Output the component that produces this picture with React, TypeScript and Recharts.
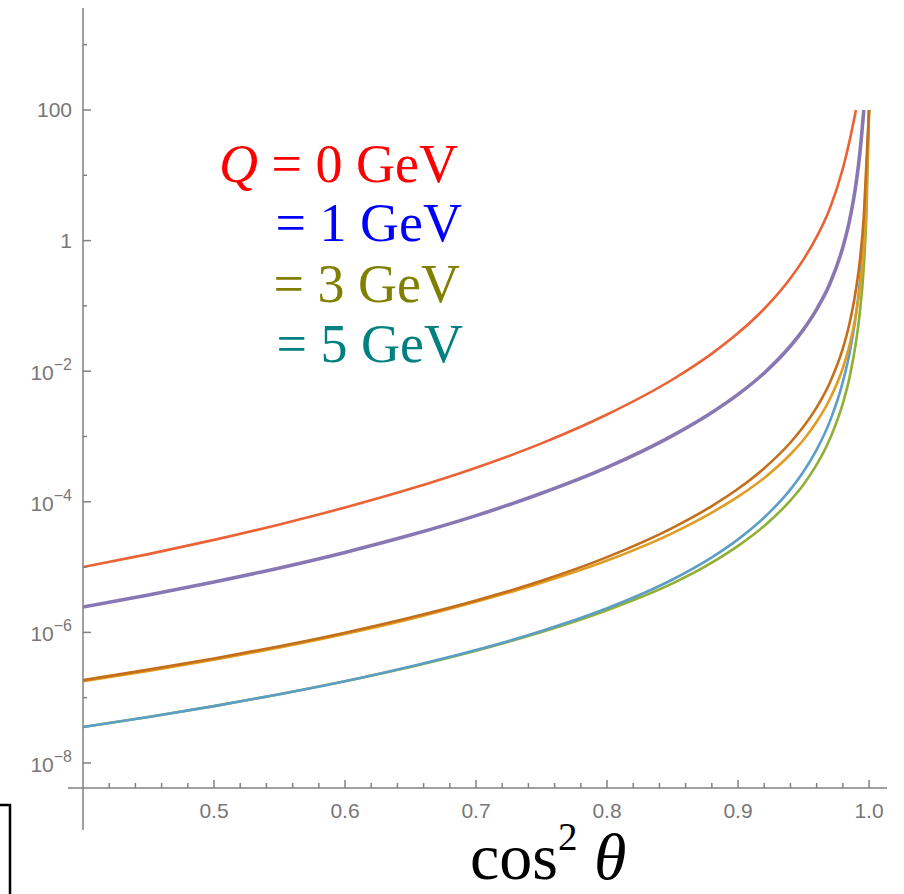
import { LineChart, Line, XAxis, YAxis } from 'recharts'

// cos^2(theta) sample points shared by all curves
const COS2 = [0.4, 0.45, 0.5, 0.55, 0.6, 0.65, 0.7, 0.75, 0.8, 0.85, 0.88, 0.9, 0.92, 0.94, 0.95, 0.96, 0.97, 0.98, 0.985, 0.99, 0.993, 0.996, 0.998, 1.0]

// Q = 0 GeV
const RATE_Q0 = [1.0e-5, 1.58e-5, 2.61e-5, 4.5e-5, 8.17e-5, 1.58e-4, 3.33e-4, 7.85e-4, 2.17e-3, 7.46e-3, 0.0186, 0.0383, 0.0904, 0.265, 0.516, 1.14, 3.08, 12.7, 32.8, 100, null, null, null, null]
// Q = 1 GeV
const RATE_Q1 = [2.45e-6, 3.74e-6, 5.92e-6, 9.72e-6, 1.68e-5, 3.09e-5, 6.14e-5, 1.35e-4, 3.36e-4, 1.03e-3, 2.33e-3, 4.41e-3, 9.4e-3, 0.0243, 0.0437, 0.0885, 0.216, 0.791, 1.99, 7.28, 22.0, 100, null, null]
// Q = 3 GeV (two variants)
const RATE_Q3A = [1.86e-7, 2.69e-7, 3.99e-7, 6.15e-7, 9.91e-7, 1.69e-6, 3.08e-6, 6.18e-6, 1.42e-5, 3.99e-5, 8.61e-5, 1.58e-4, 3.27e-4, 8.09e-4, 1.42e-3, 2.79e-3, 6.61e-3, 0.0223, 0.0528, 0.178, 0.501, 2.4, 15.6, 100]
const RATE_Q3B = [1.78e-7, 2.56e-7, 3.81e-7, 5.87e-7, 9.46e-7, 1.61e-6, 2.94e-6, 5.77e-6, 1.26e-5, 3.32e-5, 6.84e-5, 1.2e-4, 2.32e-4, 5.35e-4, 8.93e-4, 1.68e-3, 3.72e-3, 0.0112, 0.0247, 0.0743, 0.191, 0.794, 4.4, 100]
// Q = 5 GeV (two variants)
const RATE_Q5A = [3.55e-8, 5.06e-8, 7.43e-8, 1.13e-7, 1.79e-7, 3.0e-7, 5.36e-7, 1.05e-6, 2.34e-6, 6.46e-6, 1.41e-5, 2.66e-5, 5.75e-5, 1.55e-4, 2.91e-4, 6.28e-4, 1.69e-3, 6.87e-3, 0.0184, 0.0729, 0.237, 1.34, 10.0, 100]
const RATE_Q5B = [3.55e-8, 5.06e-8, 7.43e-8, 1.13e-7, 1.79e-7, 2.96e-7, 5.24e-7, 1.01e-6, 2.18e-6, 5.62e-6, 1.17e-5, 2.11e-5, 4.27e-5, 1.05e-4, 1.84e-4, 3.7e-4, 9.1e-4, 3.21e-3, 7.83e-3, 0.0277, 0.0802, 0.395, 2.51, 100]

const X_TICKS = [0.42, 0.44, 0.46, 0.48, 0.5, 0.52, 0.54, 0.56, 0.58, 0.6, 0.62, 0.64, 0.66, 0.68, 0.7, 0.72, 0.74, 0.76, 0.78, 0.8, 0.82, 0.84, 0.86, 0.88, 0.9, 0.92, 0.94, 0.96, 0.98, 1.0]
const Y_TICKS = [1e-8, 1e-7, 1e-6, 1e-5, 1e-4, 1e-3, 1e-2, 1e-1, 1, 10, 100, 1000]

const LEGEND = [
  { text: '= 1 GeV', color: '#0000ff', x: 462, y: 241 },
  { text: '= 3 GeV', color: '#808000', x: 460, y: 302 },
  { text: '= 5 GeV', color: '#008080', x: 463, y: 362 },
]

const AXIS = '#808080'
const LABEL = '#777777'
const SANS = '"Liberation Sans", Arial, sans-serif'
const SERIF = '"Liberation Serif", "Times New Roman", serif'

const data = COS2.map((x, i) => ({
  x,
  q0: RATE_Q0[i],
  q1: RATE_Q1[i],
  q3a: RATE_Q3A[i],
  q3b: RATE_Q3B[i],
  q5a: RATE_Q5A[i],
  q5b: RATE_Q5B[i],
}))

// drawn bottom to top
const SERIES = [
  { key: 'q5b', color: '#8FB032', width: 2.6 },
  { key: 'q5a', color: '#5D9EC7', width: 2.6 },
  { key: 'q3b', color: '#E19C24', width: 2.6 },
  { key: 'q3a', color: '#C56E1A', width: 2.6 },
  { key: 'q1', color: '#8778B3', width: 3.6 },
  { key: 'q0', color: '#EB6235', width: 2.6 },
]

function XTick({ x, y, payload }: any) {
  const v = payload.value as number
  const major = Math.abs(v * 10 - Math.round(v * 10)) < 1e-6
  return (
    <g>
      <line x1={x} x2={x} y1={y} y2={y - (major ? 8 : 5)} stroke={AXIS} strokeWidth={1.5} />
      {major && (
        <text x={x} y={y + 30} textAnchor="middle" fontSize={21} fill={LABEL} fontFamily={SANS}>
          {v.toFixed(1)}
        </text>
      )}
    </g>
  )
}

function YTick({ x, y, payload }: any) {
  const exp = Math.round(Math.log10(payload.value))
  const major = exp % 2 === 0
  let label = null
  if (major) {
    label =
      exp >= 0 ? (
        <text x={x - 11} y={y + 7} textAnchor="end" fontSize={21} fill={LABEL} fontFamily={SANS}>
          {String(Math.pow(10, exp))}
        </text>
      ) : (
        <text x={x - 11} y={y + 9} textAnchor="end" fontSize={21} fill={LABEL} fontFamily={SANS}>
          10
          <tspan fontSize={16} dy={-10}>{'\u2212' + -exp}</tspan>
        </text>
      )
  }
  return (
    <g>
      <line x1={x} x2={x + (major ? 8 : 4)} y1={y} y2={y} stroke={AXIS} strokeWidth={1.5} />
      {label}
    </g>
  )
}

export default function App() {
  return (
    <div style={{ position: 'absolute', left: 0, top: 0, width: 904, height: 894, background: '#fff' }}>
      <LineChart width={904} height={894} data={data} margin={{ top: 8, right: 17, bottom: 0, left: 0 }}>
        <XAxis
          dataKey="x"
          type="number"
          domain={[0.4, 1.0137]}
          ticks={X_TICKS}
          interval={0}
          allowDataOverflow
          height={106}
          tickSize={0}
          tickMargin={0}
          tickLine={false}
          axisLine={{ stroke: AXIS, strokeWidth: 1.5 }}
          tick={<XTick />}
        />
        <YAxis
          type="number"
          scale="log"
          domain={[Math.pow(10, -8.383), Math.pow(10, 3.562)]}
          ticks={Y_TICKS}
          interval={0}
          allowDataOverflow
          width={83}
          tickSize={0}
          tickMargin={0}
          tickLine={false}
          axisLine={{ stroke: AXIS, strokeWidth: 1.5 }}
          tick={<YTick />}
        />
        {SERIES.map((s) => (
          <Line
            key={s.key}
            dataKey={s.key}
            type="monotone"
            stroke={s.color}
            strokeWidth={s.width}
            dot={false}
            activeDot={false}
            connectNulls={false}
            isAnimationActive={false}
          />
        ))}
      </LineChart>
      <svg width={904} height={894} style={{ position: 'absolute', left: 0, top: 0, pointerEvents: 'none' }}>
        {/* axis stubs past the origin */}
        <line x1={68} x2={83} y1={788} y2={788} stroke={AXIS} strokeWidth={1.5} />
        <line x1={83} x2={83} y1={788} y2={830} stroke={AXIS} strokeWidth={1.5} />
        {/* frame corner at the lower left */}
        <polyline points="0,805 10,805 10,894" fill="none" stroke="#000" strokeWidth={2.5} />
        <text x={458} y={182} textAnchor="end" fontSize={54} fill="#ff0000" fontFamily={SERIF}>
          <tspan fontStyle="italic">Q</tspan>
          {' = 0 GeV'}
        </text>
        {LEGEND.map((l) => (
          <text key={l.text} x={l.x} y={l.y} textAnchor="end" fontSize={54} fill={l.color} fontFamily={SERIF}>
            {l.text}
          </text>
        ))}
        <text x={470} y={879} fontSize={66} fill="#000" fontFamily={SERIF}>
          cos
          <tspan fontSize={39} dy={-29}>2</tspan>
          <tspan dy={29} fontStyle="italic">{' \u03b8'}</tspan>
        </text>
      </svg>
    </div>
  )
}
